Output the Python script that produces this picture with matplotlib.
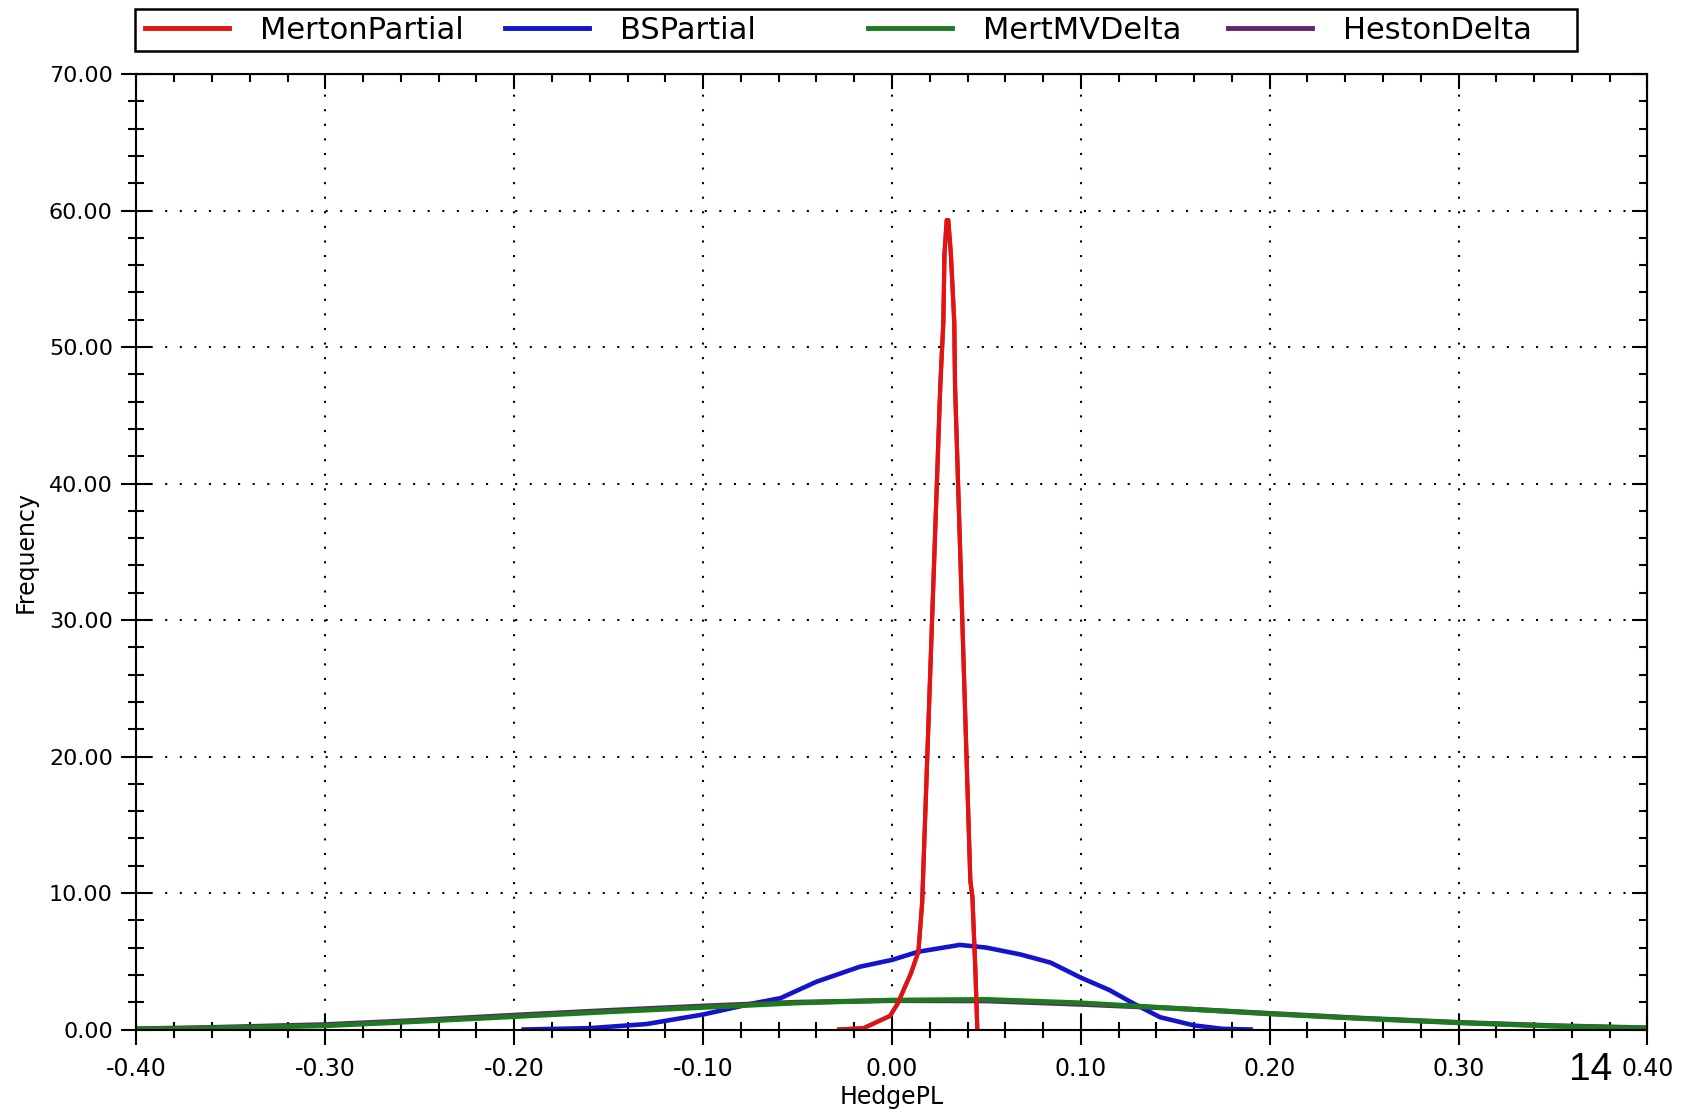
import matplotlib
matplotlib.use("Agg")
import matplotlib.pyplot as plt
from matplotlib.patches import Rectangle
from matplotlib.ticker import MultipleLocator, FormatStrFormatter

# histogram polygons of the hedge P&L
red_x = [-0.028, -0.015, -0.001, 0.003, 0.010, 0.014, 0.016, 0.0256, 0.0272, 0.0278, 0.0290,
         0.0298, 0.0312, 0.0330, 0.0334, 0.0415, 0.0426, 0.0441, 0.0452]
red_y = [0, 0.1, 1.0, 1.9, 4.1, 5.7, 9.3, 47.2, 51.8, 56.8, 59.3,
         59.3, 56.8, 51.8, 47.2, 10.9, 9.7, 4.6, 0]

blue_x = [-0.195, -0.16, -0.13, -0.10, -0.074, -0.059, -0.04, -0.017, 0.0, 0.014, 0.036,
          0.050, 0.068, 0.084, 0.100, 0.115, 0.128, 0.142, 0.160, 0.175, 0.19]
blue_y = [0, 0.1, 0.4, 1.1, 1.9, 2.3, 3.5, 4.6, 5.1, 5.7, 6.2,
          6.0, 5.5, 4.9, 3.8, 2.9, 1.9, 0.9, 0.3, 0.05, 0]

wide_x = [-0.40, -0.36, -0.30, -0.25, -0.20, -0.15, -0.10, -0.05, 0.00, 0.05, 0.10,
          0.15, 0.20, 0.25, 0.30, 0.35, 0.40]
mert_y = [0.03, 0.10, 0.28, 0.60, 0.95, 1.30, 1.62, 1.95, 2.15, 2.20, 1.95,
          1.55, 1.15, 0.80, 0.50, 0.25, 0.10]
heston_y = [0.05, 0.15, 0.36, 0.68, 1.05, 1.40, 1.72, 2.00, 2.12, 2.10, 1.85,
            1.55, 1.18, 0.82, 0.52, 0.28, 0.12]

names = ["MertonPartial", "BSPartial", "MertMVDelta", "HestonDelta"]
colors = ["#e01414", "#1414cc", "#1e7a1e", "#5e2470"]

fig = plt.figure(figsize=(16.85, 11.13), dpi=100)
ax = fig.add_axes([0.081, 0.075, 0.8967, 0.8585])

l1, = ax.plot(red_x, red_y, color=colors[0], lw=3)
l2, = ax.plot(blue_x, blue_y, color=colors[1], lw=3.3)
l4, = ax.plot(wide_x, heston_y, color=colors[3], lw=3.6)
l3, = ax.plot(wide_x, mert_y, color=colors[2], lw=3.6)
# redraw the spike on top
ax.plot(red_x, red_y, color=colors[0], lw=3)

ax.set_xlim(-0.4, 0.4)
ax.set_ylim(0, 70)
ax.xaxis.set_major_locator(MultipleLocator(0.1))
ax.xaxis.set_minor_locator(MultipleLocator(0.02))
ax.yaxis.set_major_locator(MultipleLocator(10))
ax.yaxis.set_minor_locator(MultipleLocator(2))
ax.xaxis.set_major_formatter(FormatStrFormatter("%.2f"))
ax.yaxis.set_major_formatter(FormatStrFormatter("%.2f"))

ax.tick_params(which="major", direction="inout", length=22, width=1.5, pad=8)
ax.tick_params(which="minor", direction="inout", length=11, width=1.5)
ax.tick_params(axis="x", labelsize=17, pad=9)
ax.tick_params(axis="y", labelsize=16, pad=6)

for s in ax.spines.values():
    s.set_linewidth(1.5)
    s.set_color("black")

top = ax.secondary_xaxis("top")
top.xaxis.set_major_locator(MultipleLocator(0.1))
top.xaxis.set_minor_locator(MultipleLocator(0.02))
top.tick_params(which="major", direction="in", length=11, width=1.5, labeltop=False)
top.tick_params(which="minor", direction="in", length=6, width=1.5)
right = ax.secondary_yaxis("right")
right.yaxis.set_major_locator(MultipleLocator(10))
right.yaxis.set_minor_locator(MultipleLocator(2))
right.tick_params(which="major", direction="in", length=11, width=1.5, labelright=False)
right.tick_params(which="minor", direction="in", length=6, width=1.5)

ax.grid(True, which="major", color="black", lw=1.5, linestyle=(0, (1, 6)))

ax.set_xlabel("HedgePL", fontsize=17, labelpad=3)
ax.set_ylabel("Frequency", fontsize=17, labelpad=8)

# legend: fixed-width slots inside one box, like the original chart
fig.patches.append(Rectangle((0.0804, 0.9546), 0.8558, 0.0377, transform=fig.transFigure,
                             facecolor="white", edgecolor="black", lw=1.8, zorder=5))
slot_x = [0.0862, 0.2997, 0.5151, 0.7288]
for line, name, sx in zip([l1, l2, l3, l4], names, slot_x):
    leg = fig.legend([line], [name], loc="center left", bbox_to_anchor=(sx, 0.9725),
                     fontsize=22, handlelength=2.75, handletextpad=1.0, borderpad=0,
                     borderaxespad=0, frameon=False)
    leg.set_zorder(6)
    for h in leg.get_lines():
        h.set_linewidth(3.5)

fig.text(0.9567, 0.030, "14", fontsize=28, family="Liberation Sans", ha="right", va="baseline")

fig.savefig("out.png", dpi=100)
